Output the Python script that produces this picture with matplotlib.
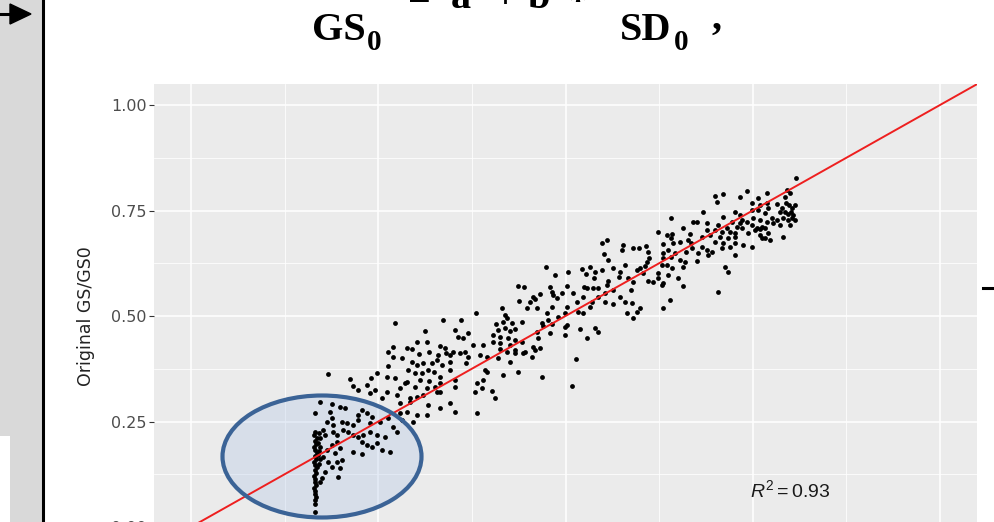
import numpy as np
import matplotlib.pyplot as plt
from matplotlib.patches import Rectangle, Ellipse, Polygon

plt.rcParams['mathtext.fontset'] = 'custom'
plt.rcParams['mathtext.rm'] = 'Liberation Sans'
plt.rcParams['mathtext.it'] = 'Liberation Sans:italic'

# (predicted, original GS/GS0) pairs
stack = [(0.166, 0.225), (0.164, 0.218), (0.168, 0.211), (0.165, 0.204), (0.167, 0.197),
         (0.164, 0.190), (0.166, 0.183), (0.168, 0.176), (0.165, 0.169), (0.167, 0.162),
         (0.164, 0.155), (0.166, 0.148), (0.168, 0.141), (0.165, 0.134), (0.167, 0.127),
         (0.164, 0.120), (0.166, 0.113), (0.165, 0.106), (0.167, 0.099), (0.164, 0.092),
         (0.166, 0.085), (0.165, 0.078), (0.167, 0.071), (0.166, 0.064), (0.165, 0.055),
         (0.166, 0.036), (0.171, 0.222), (0.172, 0.212), (0.170, 0.200), (0.172, 0.190),
         (0.171, 0.180), (0.170, 0.170), (0.172, 0.160), (0.171, 0.150)]

lower = [(0.183, 0.363), (0.172, 0.296), (0.188, 0.292), (0.199, 0.284), (0.206, 0.282),
         (0.166, 0.270), (0.186, 0.273), (0.188, 0.258), (0.182, 0.249), (0.190, 0.242),
         (0.202, 0.249), (0.208, 0.246), (0.216, 0.242), (0.223, 0.265), (0.228, 0.277),
         (0.235, 0.270), (0.242, 0.261), (0.223, 0.254), (0.239, 0.246), (0.252, 0.249),
         (0.263, 0.258), (0.270, 0.237), (0.275, 0.225), (0.176, 0.230), (0.179, 0.218),
         (0.190, 0.225), (0.195, 0.218), (0.203, 0.230), (0.210, 0.225), (0.216, 0.218),
         (0.223, 0.213), (0.230, 0.218), (0.239, 0.225), (0.248, 0.218), (0.259, 0.213),
         (0.228, 0.201), (0.235, 0.194), (0.242, 0.190), (0.248, 0.199), (0.255, 0.182),
         (0.266, 0.178), (0.216, 0.178), (0.228, 0.173), (0.195, 0.201), (0.188, 0.194),
         (0.199, 0.187), (0.182, 0.182), (0.192, 0.175), (0.176, 0.166), (0.183, 0.154),
         (0.195, 0.154), (0.202, 0.159), (0.199, 0.140), (0.188, 0.142), (0.179, 0.130),
         (0.196, 0.119), (0.175, 0.116), (0.172, 0.107), (0.279, 0.294), (0.316, 0.289),
         (0.332, 0.282), (0.302, 0.265), (0.315, 0.265), (0.288, 0.273), (0.279, 0.270),
         (0.296, 0.249), (0.282, 0.254), (0.292, 0.296)]

middle = [(0.272, 0.483), (0.336, 0.491), (0.360, 0.491), (0.380, 0.507), (0.312, 0.465),
          (0.270, 0.427), (0.288, 0.424), (0.295, 0.422), (0.302, 0.438), (0.315, 0.438),
          (0.332, 0.429), (0.339, 0.424), (0.352, 0.467), (0.356, 0.450), (0.363, 0.448),
          (0.370, 0.460), (0.376, 0.431), (0.263, 0.415), (0.270, 0.403), (0.282, 0.401),
          (0.304, 0.410), (0.318, 0.415), (0.330, 0.408), (0.340, 0.412), (0.346, 0.408),
          (0.350, 0.415), (0.359, 0.412), (0.366, 0.415), (0.370, 0.403), (0.263, 0.382),
          (0.295, 0.391), (0.302, 0.384), (0.310, 0.389), (0.322, 0.389), (0.328, 0.396),
          (0.335, 0.384), (0.346, 0.391), (0.367, 0.389), (0.248, 0.365), (0.262, 0.356),
          (0.272, 0.353), (0.290, 0.372), (0.299, 0.365), (0.308, 0.365), (0.316, 0.372),
          (0.324, 0.367), (0.332, 0.356), (0.346, 0.372), (0.212, 0.351), (0.240, 0.353),
          (0.288, 0.344), (0.306, 0.348), (0.318, 0.346), (0.332, 0.341), (0.352, 0.348),
          (0.382, 0.341), (0.216, 0.334), (0.235, 0.337), (0.246, 0.325), (0.262, 0.320),
          (0.279, 0.329), (0.286, 0.341), (0.299, 0.332), (0.315, 0.329), (0.326, 0.332),
          (0.332, 0.320), (0.352, 0.332), (0.379, 0.320), (0.223, 0.325), (0.239, 0.318),
          (0.255, 0.306), (0.275, 0.313), (0.292, 0.306), (0.302, 0.308), (0.310, 0.313),
          (0.328, 0.320), (0.346, 0.294), (0.352, 0.273), (0.382, 0.270)]

upper_mid = [(0.474, 0.616), (0.503, 0.604), (0.522, 0.611), (0.533, 0.616), (0.527, 0.600),
             (0.539, 0.604), (0.486, 0.597), (0.538, 0.590), (0.437, 0.571), (0.445, 0.569),
             (0.479, 0.569), (0.502, 0.571), (0.525, 0.569), (0.529, 0.566), (0.537, 0.566),
             (0.543, 0.566), (0.457, 0.545), (0.466, 0.552), (0.482, 0.557), (0.483, 0.550),
             (0.495, 0.555), (0.510, 0.555), (0.523, 0.545), (0.543, 0.545), (0.438, 0.536),
             (0.453, 0.533), (0.459, 0.540), (0.489, 0.543), (0.515, 0.533), (0.535, 0.533),
             (0.415, 0.519), (0.449, 0.519), (0.462, 0.519), (0.482, 0.521), (0.502, 0.521),
             (0.517, 0.510), (0.533, 0.521), (0.419, 0.502), (0.475, 0.507), (0.490, 0.498),
             (0.499, 0.507), (0.523, 0.507), (0.407, 0.481), (0.417, 0.486), (0.422, 0.495),
             (0.429, 0.483), (0.442, 0.486), (0.469, 0.483), (0.477, 0.491), (0.482, 0.481),
             (0.502, 0.479), (0.410, 0.467), (0.419, 0.472), (0.426, 0.465), (0.433, 0.469),
             (0.462, 0.462), (0.470, 0.476), (0.499, 0.474), (0.519, 0.469), (0.539, 0.472),
             (0.403, 0.455), (0.413, 0.450), (0.423, 0.448), (0.433, 0.443), (0.463, 0.448),
             (0.479, 0.460), (0.499, 0.455), (0.543, 0.462), (0.529, 0.448), (0.390, 0.431),
             (0.403, 0.438), (0.413, 0.436), (0.426, 0.431), (0.442, 0.438), (0.457, 0.427),
             (0.466, 0.424), (0.413, 0.422), (0.422, 0.415), (0.433, 0.419), (0.446, 0.415),
             (0.459, 0.419), (0.433, 0.412), (0.386, 0.408), (0.395, 0.403), (0.410, 0.401),
             (0.426, 0.391), (0.443, 0.412), (0.455, 0.403), (0.514, 0.398), (0.392, 0.372),
             (0.395, 0.367), (0.417, 0.360), (0.437, 0.367), (0.469, 0.356), (0.390, 0.348),
             (0.388, 0.329), (0.402, 0.322), (0.509, 0.334), (0.406, 0.306)]

upper = [(0.641, 0.732), (0.670, 0.723), (0.676, 0.723), (0.657, 0.709), (0.623, 0.699),
         (0.635, 0.692), (0.642, 0.694), (0.666, 0.694), (0.641, 0.685), (0.653, 0.675),
         (0.663, 0.680), (0.555, 0.680), (0.549, 0.673), (0.577, 0.668), (0.590, 0.661),
         (0.598, 0.661), (0.607, 0.666), (0.630, 0.671), (0.643, 0.673), (0.668, 0.673),
         (0.575, 0.656), (0.610, 0.652), (0.611, 0.638), (0.630, 0.649), (0.637, 0.656),
         (0.646, 0.649), (0.661, 0.652), (0.669, 0.661), (0.677, 0.649), (0.551, 0.647),
         (0.557, 0.633), (0.630, 0.638), (0.641, 0.640), (0.653, 0.633), (0.659, 0.628),
         (0.676, 0.630), (0.609, 0.628), (0.599, 0.614), (0.579, 0.621), (0.563, 0.614),
         (0.606, 0.619), (0.629, 0.621), (0.635, 0.621), (0.642, 0.614), (0.657, 0.616),
         (0.549, 0.609), (0.573, 0.604), (0.595, 0.609), (0.623, 0.602), (0.637, 0.597),
         (0.650, 0.590), (0.623, 0.590), (0.557, 0.583), (0.571, 0.593), (0.583, 0.590),
         (0.603, 0.602), (0.610, 0.583), (0.617, 0.581), (0.630, 0.578), (0.657, 0.571),
         (0.555, 0.574), (0.563, 0.562), (0.590, 0.581), (0.629, 0.574), (0.553, 0.555),
         (0.573, 0.545), (0.587, 0.562), (0.704, 0.557), (0.553, 0.533), (0.563, 0.529),
         (0.579, 0.533), (0.589, 0.531), (0.639, 0.538), (0.582, 0.507), (0.595, 0.510),
         (0.599, 0.519), (0.590, 0.495), (0.630, 0.519)]

top = [(0.808, 0.827), (0.796, 0.799), (0.800, 0.792), (0.793, 0.782), (0.769, 0.792),
       (0.742, 0.796), (0.733, 0.782), (0.700, 0.784), (0.710, 0.789), (0.702, 0.770),
       (0.757, 0.780), (0.749, 0.768), (0.760, 0.763), (0.769, 0.768), (0.782, 0.765),
       (0.789, 0.756), (0.798, 0.763), (0.802, 0.756), (0.786, 0.747), (0.793, 0.747),
       (0.797, 0.742), (0.801, 0.747), (0.804, 0.739), (0.790, 0.732), (0.797, 0.728),
       (0.802, 0.732), (0.684, 0.747), (0.726, 0.747), (0.733, 0.739), (0.749, 0.751),
       (0.757, 0.751), (0.770, 0.756), (0.766, 0.744), (0.776, 0.732), (0.782, 0.728),
       (0.710, 0.735), (0.722, 0.723), (0.736, 0.728), (0.742, 0.723), (0.750, 0.732),
       (0.760, 0.728), (0.769, 0.723), (0.777, 0.720), (0.689, 0.720), (0.704, 0.716),
       (0.716, 0.709), (0.729, 0.711), (0.733, 0.720), (0.749, 0.716), (0.756, 0.709),
       (0.762, 0.711), (0.689, 0.704), (0.700, 0.704), (0.709, 0.699), (0.720, 0.699),
       (0.726, 0.697), (0.736, 0.709), (0.753, 0.704), (0.760, 0.706), (0.766, 0.709),
       (0.682, 0.687), (0.693, 0.692), (0.706, 0.687), (0.717, 0.685), (0.726, 0.687),
       (0.744, 0.697), (0.760, 0.692), (0.770, 0.697), (0.766, 0.685), (0.762, 0.685),
       (0.790, 0.687), (0.700, 0.675), (0.710, 0.673), (0.720, 0.664), (0.726, 0.673),
       (0.737, 0.668), (0.749, 0.664), (0.773, 0.680), (0.682, 0.664), (0.689, 0.656),
       (0.709, 0.661), (0.696, 0.652), (0.690, 0.645), (0.726, 0.645), (0.713, 0.616),
       (0.717, 0.604), (0.806, 0.763), (0.794, 0.768), (0.806, 0.728), (0.786, 0.716),
       (0.800, 0.716)]

r_squared = 0.93
major_ticks = [0.00, 0.25, 0.50, 0.75, 1.00]
minor_ticks = [0.125, 0.375, 0.625, 0.875]

fig = plt.figure(figsize=(9.94, 5.22), dpi=100)
ax = fig.add_axes([0.15448, -0.05, 0.82887, 0.88927])
ax.set_facecolor('#EBEBEB')
ax.set_xlim(-0.05, 1.05)
ax.set_ylim(-0.05, 1.05)
ax.set_xticks(major_ticks)
ax.set_yticks(major_ticks)
ax.set_xticks(minor_ticks, minor=True)
ax.set_yticks(minor_ticks, minor=True)
ax.set_xticklabels(['%.2f' % t for t in major_ticks])
ax.set_yticklabels(['%.2f' % t for t in major_ticks])
ax.grid(which='major', color='white', lw=1.1)
ax.grid(which='minor', color='white', lw=0.55)
ax.set_axisbelow(True)
for s in ax.spines.values():
    s.set_visible(False)
ax.tick_params(which='major', length=3.6, width=0.8, color='#333333',
               labelsize=11.5, labelcolor='#4D4D4D', pad=1.5)
ax.tick_params(which='minor', length=0)

for group in [stack, lower, middle, upper_mid, upper, top]:
    xs, ys = zip(*group)
    ax.scatter(xs, ys, s=12, c='black', linewidths=0, zorder=2)

ax.axline((0, 0), slope=1, color='#EE1F1F', lw=1.4, zorder=3)
ax.text(0.80, 0.088, r'$R^2 = %.2f$' % r_squared, fontsize=14, ha='center',
        va='center', color='#1A1A1A')
ax.set_ylabel('Original GS/GS0', fontsize=12.5, color='#222222')
ax.yaxis.set_label_coords(-0.071, 0.5)

# slide decorations drawn in pixel units over the chart
deco = fig.add_axes([0, 0, 1, 1], zorder=5)
deco.set_xlim(0, 994)
deco.set_ylim(522, 0)
deco.axis('off')
deco.add_patch(Rectangle((0, 0), 41.5, 522, fc='#D9D9D9', ec='none'))
deco.add_patch(Rectangle((0, 436), 10, 86, fc='white', ec='none'))
deco.plot([42.8, 42.8], [0, 522], color='black', lw=2.2)
deco.plot([0, 12], [14, 14], color='black', lw=2.2)
deco.add_patch(Polygon([(10, 4), (31, 14), (10, 24)], closed=True, color='black'))
deco.plot([983, 994], [288, 288], color='black', lw=2.2)

# highlight ellipse: translucent tint under the points, outline on top
ax.add_patch(Ellipse((322, 456.5), 199, 122, transform=deco.transData,
                     fc='#B4C7E7', alpha=0.35, ec='none', zorder=1.5, clip_on=False))
deco.add_patch(Ellipse((322, 456.5), 199, 122, fc='none', ec='#3B6396', lw=3))

serif = dict(family='Liberation Serif', weight='bold', color='black', va='baseline')
deco.text(312, 40, 'GS', fontsize=29, ha='left', **serif)
deco.text(367, 50, '0', fontsize=21, ha='left', **serif)
deco.text(620, 40, 'SD', fontsize=29, ha='left', **serif)
deco.text(674, 50, '0', fontsize=21, ha='left', **serif)
deco.text(712, 29, ',', fontsize=29, ha='left', **serif)
deco.text(419, 10, '=', fontsize=29, ha='center', **serif)
deco.text(461, 8, 'a', fontsize=29, ha='center', **serif)
deco.text(505, 8, '+', fontsize=29, ha='center', **serif)
deco.text(539, 8, 'b', fontsize=29, ha='center', **serif)
deco.text(577, 13, '*', fontsize=29, ha='center', **serif)

fig.savefig('out.png', dpi=100)
